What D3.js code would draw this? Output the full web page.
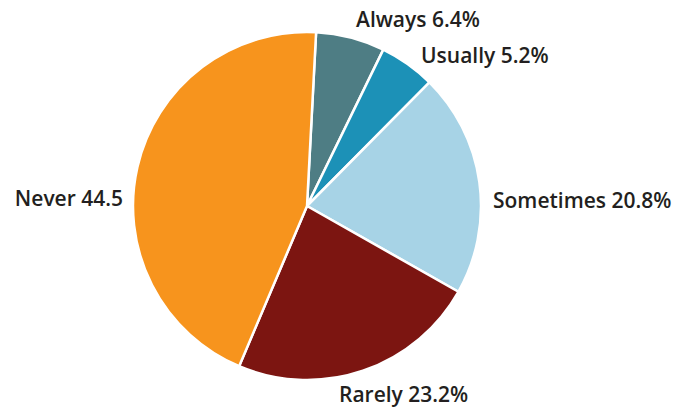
<!DOCTYPE html>
<html><head><meta charset="utf-8">
<script src="https://cdn.jsdelivr.net/npm/d3@7"></script>
<style>body{margin:0;background:#fff}text{font-family:"Open Sans",Lato,sans-serif;font-weight:600;fill:#231f20}</style>
</head><body><svg id="c" width="678" height="408"></svg>
<script>
const categories = ["Always","Usually","Sometimes","Rarely","Never"];
const values = [6.4, 5.2, 20.8, 23.2, 44.5];
const labels = ["Always 6.4%","Usually 5.2%","Sometimes 20.8%","Rarely 23.2%","Never 44.5"];
const colors = ["#4e7d84","#1c91b7","#a7d3e6","#7c1511","#f7941d"];

const svg = d3.select("#c");
const cx = 307, cy = 206, r = 174;
const startDeg = 3;
const pie = d3.pie().sort(null).value(d=>d.v)
  .startAngle(startDeg*Math.PI/180).endAngle(startDeg*Math.PI/180 + 2*Math.PI);
const data = categories.map((c,i)=>({c, v: values[i], label: labels[i], color: colors[i]}));
const arcs = pie(data);
const arc = d3.arc().innerRadius(0).outerRadius(r);
const g = svg.append("g").attr("transform",`translate(${cx},${cy})`);
g.selectAll("path").data(arcs).join("path")
  .attr("d", arc).attr("fill", d=>d.data.color)
  .attr("stroke","#fff").attr("stroke-width",2.5).attr("stroke-linejoin","round");

// label placement relative to pie geometry
const place = {
  Always:   {x: 49,   y: -179, a:"start"},
  Usually:  {x: 114,  y: -143, a:"start"},
  Sometimes:{x: 186,  y: 2,    a:"start"},
  Rarely:   {x: 32,   y: 196,  a:"start"},
  Never:    {x: -184, y: 0,    a:"end"}
};
g.selectAll("text").data(arcs).join("text")
  .attr("x", d=>place[d.data.c].x).attr("y", d=>place[d.data.c].y)
  .attr("text-anchor", d=>place[d.data.c].a)
  .attr("font-size", 21)
  .text(d=>d.data.label);
</script></body></html>
